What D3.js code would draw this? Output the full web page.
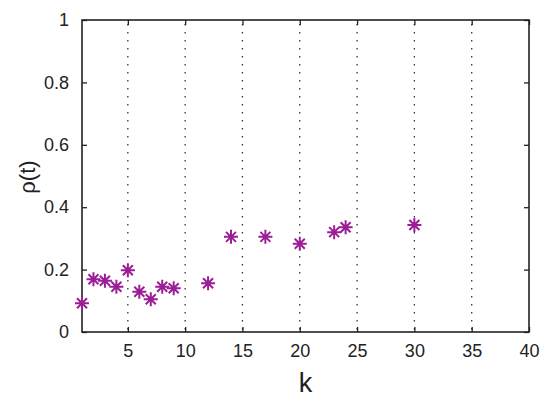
<!DOCTYPE html>
<html lang="en">
<head>
<meta charset="utf-8">
<script src="https://d3js.org/d3.v7.min.js"></script>
<style>
  body { margin: 0; background: #fff; }
  text { font-family: "Liberation Sans", Arial, sans-serif; fill: #222; }
  .grid line { stroke: #333; stroke-width: 1.3px; stroke-dasharray: 1.4 6.6; }
</style>
</head>
<body>
<svg id="chart" width="550" height="400"></svg>
<script>
// data
const kValues   = [1, 2, 3, 4, 5, 6, 7, 8, 9, 12, 14, 17, 20, 23, 24, 30];
const rhoValues = [0.092, 0.169, 0.164, 0.145, 0.198, 0.129, 0.105, 0.145, 0.140, 0.156, 0.305, 0.305, 0.283, 0.320, 0.336, 0.343];
const xTicks = [5, 10, 15, 20, 25, 30, 35, 40];
const yTicks = [0, 0.2, 0.4, 0.6, 0.8, 1];
const gridK  = [5, 10, 15, 20, 25, 30, 35];

let svg = d3.select("#chart");
let pLeft = 82, pRight = 529, pTop = 20, pBottom = 332;

let x = d3.scaleLinear().domain([1, 40]).range([pLeft, pRight]);
let y = d3.scaleLinear().domain([0, 1]).range([pBottom, pTop]);

// dotted vertical grid
svg.append("g").attr("class", "grid")
  .selectAll("line")
  .data(gridK)
  .join("line")
  .attr("x1", d => x(d)).attr("x2", d => x(d))
  .attr("y1", pTop + 4).attr("y2", pBottom);

// axes with inward ticks
let tickLen = 5;
let fmt = d => d === 0 ? "0" : d === 1 ? "1" : d3.format(".1f")(d);

let xb = svg.append("g").attr("transform", `translate(0,${pBottom})`)
  .call(d3.axisBottom(x).tickValues(xTicks).tickSizeInner(-tickLen).tickSizeOuter(0).tickPadding(12));
let xt = svg.append("g").attr("transform", `translate(0,${pTop})`)
  .call(d3.axisTop(x).tickValues(xTicks).tickSizeInner(-tickLen).tickSizeOuter(0).tickFormat(""));
let yl = svg.append("g").attr("transform", `translate(${pLeft},0)`)
  .call(d3.axisLeft(y).tickValues(yTicks).tickSizeInner(-tickLen).tickSizeOuter(0).tickPadding(13).tickFormat(fmt));
let yr = svg.append("g").attr("transform", `translate(${pRight},0)`)
  .call(d3.axisRight(y).tickValues(yTicks).tickSizeInner(-tickLen).tickSizeOuter(0).tickFormat(""));

[xb, xt, yl, yr].forEach(g => {
  g.select(".domain").remove();
  g.selectAll("line").attr("stroke", "#222").attr("stroke-width", 1.3);
  g.selectAll("text").style("font-size", "18px").attr("fill", "#222");
});

// box
svg.append("rect")
  .attr("x", pLeft).attr("y", pTop)
  .attr("width", pRight - pLeft).attr("height", pBottom - pTop)
  .attr("fill", "none").attr("stroke", "#222").attr("stroke-width", 1.6);

// asterisk markers
let pts = kValues.map((k, i) => ({k: k, v: rhoValues[i]}));
let a = 7, b = 5;
let star = `M0,${-a}V${a}M${-a},0H${a}M${-b},${-b}L${b},${b}M${-b},${b}L${b},${-b}`;
svg.append("g").selectAll("path")
  .data(pts)
  .join("path")
  .attr("transform", d => `translate(${x(d.k)},${y(d.v)})`)
  .attr("d", star)
  .attr("fill", "none")
  .attr("stroke", "#9a1e95")
  .attr("stroke-width", 2);

// labels
svg.append("text")
  .attr("x", (pLeft + pRight) / 2).attr("y", 392)
  .attr("text-anchor", "middle")
  .style("font-size", "27px")
  .text("k");

svg.append("text")
  .attr("transform", "translate(35,177) rotate(-90)")
  .attr("text-anchor", "middle")
  .style("font-size", "22px")
  .text("ρ(t)");
</script>
</body>
</html>
